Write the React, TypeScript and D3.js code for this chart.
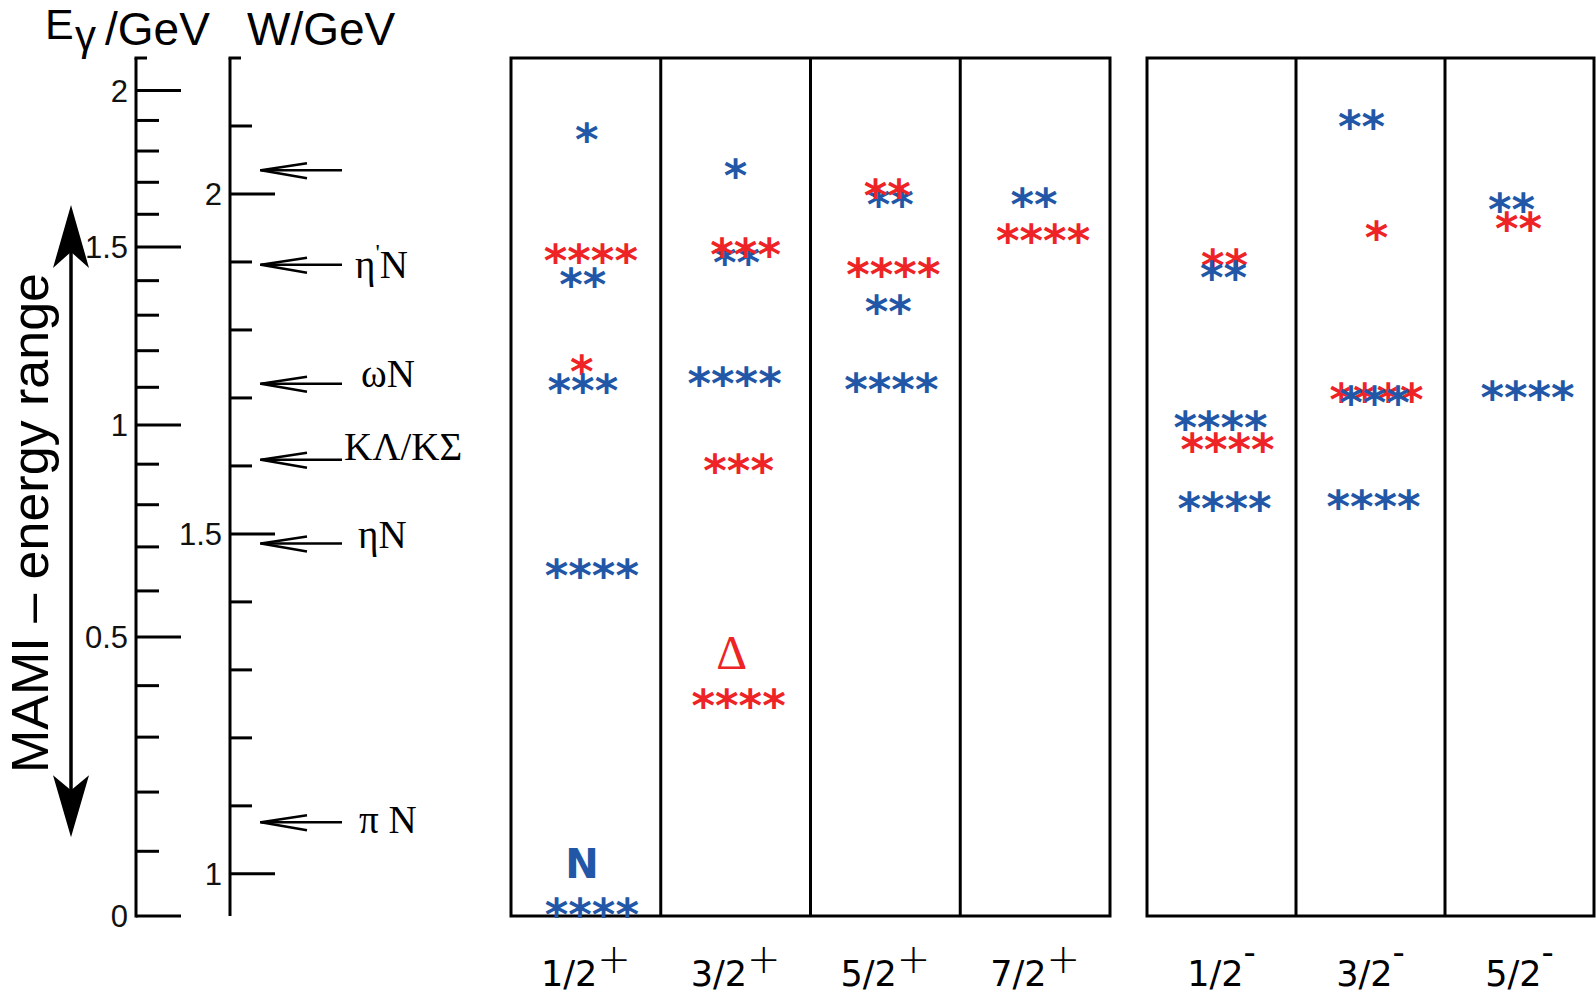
import React from 'react';
import * as d3 from 'd3';

// Nucleon mass (GeV) links photon energy to centre-of-mass energy: W^2 = m^2 + 2 m E
const NUCLEON_MASS = 0.938;
const W_TOP = 2.2;

const E_MAJOR_TICKS = [0, 0.5, 1, 1.5, 2];
const W_MAJOR_TICKS = [1, 1.5, 2];

// Photon-energy span covered by the MAMI arrow (GeV)
const MAMI_RANGE = [0.123, 1.629];

const POSITIVE_PARITY = ['1/2', '3/2', '5/2', '7/2'];
const NEGATIVE_PARITY = ['1/2', '3/2', '5/2'];

// Production thresholds on the W axis (GeV)
const THRESHOLD_W = [2.035, 1.896, 1.721, 1.609, 1.486, 1.076];
const THRESHOLD_LABEL = ['', "η'N", 'ωN', 'KΛ/KΣ', 'ηN', 'π N'];

// Baryon states: J^P column, family (N blue, Δ red), W (GeV), star rating
const STATE_COLUMN = [
  '1/2+', '1/2+', '1/2+', '1/2+', '1/2+', '1/2+', '1/2+',
  '3/2+', '3/2+', '3/2+', '3/2+', '3/2+', '3/2+',
  '5/2+', '5/2+', '5/2+', '5/2+', '5/2+',
  '7/2+', '7/2+',
  '1/2-', '1/2-', '1/2-', '1/2-', '1/2-',
  '3/2-', '3/2-', '3/2-', '3/2-', '3/2-',
  '5/2-', '5/2-', '5/2-',
];
const STATE_FAMILY = [
  'N', 'Δ', 'N', 'Δ', 'N', 'N', 'N',
  'N', 'N', 'Δ', 'N', 'Δ', 'Δ',
  'N', 'Δ', 'Δ', 'N', 'N',
  'N', 'Δ',
  'Δ', 'N', 'N', 'Δ', 'N',
  'N', 'Δ', 'Δ', 'N', 'N',
  'N', 'Δ', 'N',
];
const STATE_W = [
  2.091, 1.913, 1.878, 1.750, 1.722, 1.450, 0.951,
  2.038, 1.910, 1.922, 1.732, 1.604, 1.259,
  1.996, 2.009, 1.893, 1.838, 1.723,
  1.996, 1.943,
  1.906, 1.888, 1.668, 1.635, 1.548,
  2.110, 1.947, 1.709, 1.704, 1.551,
  1.988, 1.960, 1.712,
];
const STATE_RATING = [
  1, 4, 2, 1, 3, 4, 4,
  1, 2, 3, 4, 3, 4,
  2, 2, 4, 2, 4,
  2, 4,
  2, 2, 4, 4, 4,
  2, 1, 4, 3, 4,
  2, 2, 4,
];

// Ground states labelled above their star rows
const GROUND_LABEL = ['N', 'Δ'];
const GROUND_INDEX = [6, 12];

// Layout nudges (px) for the star strings inside their column
const STATE_NUDGE = [
  1, 5, -3, -4, -3, 6, 6,
  0, 1, 10, -1, 3, 3,
  5, 2, 8, 3, 6,
  -1, 8,
  3, 2, -1, 6, 3,
  -9, 6, 6, 4, 3,
  -8, -1, 8,
];
const LABEL_NUDGE_X = [0, 355, 361, 344, 358, 359];
const LABEL_NUDGE_Y = [0, 13, 3, 0, 5, 11];

const COLOR = { N: '#2257a7', Δ: '#ee2326' } as Record<string, string>;

export default function App() {
  const yW = d3.scaleLinear().domain([NUCLEON_MASS, W_TOP]).range([916, 58]);
  const wFromE = (e: number) => Math.sqrt(NUCLEON_MASS * NUCLEON_MASS + 2 * NUCLEON_MASS * e);
  const yE = (e: number) => yW(wFromE(e));

  const xPos = d3.scaleBand<string>().domain(POSITIVE_PARITY).range([511, 1110]);
  const xNeg = d3.scaleBand<string>().domain(NEGATIVE_PARITY).range([1147, 1594]);
  const colCenter = (key: string) => {
    const spin = key.slice(0, 3);
    const sc = key.endsWith('+') ? xPos : xNeg;
    return (sc(spin) as number) + sc.bandwidth() / 2;
  };

  const eAxisX = 136;
  const wAxisX = 230;
  const eMinor = d3.range(1, 21).map((i) => i / 10).filter((v) => !E_MAJOR_TICKS.includes(v));
  const wMinor = d3.range(10, 22).map((i) => i / 10).filter((v) => !W_MAJOR_TICKS.includes(v));

  const sans = 'Liberation Sans, Arial, Helvetica, sans-serif';
  const serif = 'Liberation Serif, Times New Roman, serif';
  const deja = 'DejaVu Sans, sans-serif';
  const yTop = yW(W_TOP);
  const yBottom = yW(NUCLEON_MASS);

  const arrowTop = yE(MAMI_RANGE[1]);
  const arrowBottom = yE(MAMI_RANGE[0]);
  const ax = 71;

  const groups = [
    { sc: xPos, keys: POSITIVE_PARITY, sign: '+' },
    { sc: xNeg, keys: NEGATIVE_PARITY, sign: '-' },
  ];

  return (
    <svg
      width={1596}
      height={1001}
      style={{ position: 'absolute', left: 0, top: 0, background: '#fff', display: 'block' }}
    >
      <rect x={0} y={0} width={1596} height={1001} fill="#fff" />

      {/* axis titles */}
      <text x={45} y={39} fontFamily={sans} fontSize={43} fill="#000">E</text>
      <text x={75} y={50} fontFamily={sans} fontSize={42} fill="#000">γ</text>
      <text x={105} y={45} fontFamily={sans} fontSize={46} fill="#000">/GeV</text>
      <text x={247} y={45} fontFamily={sans} fontSize={46} fill="#000">W/GeV</text>

      {/* photon energy axis */}
      <g stroke="#000" strokeWidth={3}>
        <line x1={eAxisX} x2={eAxisX} y1={yTop} y2={yBottom + 1.5} />
        <line x1={eAxisX - 1.5} x2={eAxisX + 11} y1={yTop} y2={yTop} />
        {E_MAJOR_TICKS.map((v) => (
          <line key={'em' + v} x1={eAxisX} x2={eAxisX + 45} y1={yE(v)} y2={yE(v)} />
        ))}
        {eMinor.map((v) => (
          <line key={'en' + v} x1={eAxisX} x2={eAxisX + 23} y1={yE(v)} y2={yE(v)} />
        ))}
      </g>
      {E_MAJOR_TICKS.map((v) => (
        <text key={'el' + v} x={128} y={yE(v)} dy="0.36em" textAnchor="end" fontFamily={sans} fontSize={31} fill="#111">
          {String(v)}
        </text>
      ))}

      {/* centre-of-mass energy axis */}
      <g stroke="#000" strokeWidth={3}>
        <line x1={wAxisX} x2={wAxisX} y1={yTop} y2={yBottom} />
        <line x1={wAxisX - 1.5} x2={wAxisX + 11} y1={yTop} y2={yTop} />
        {W_MAJOR_TICKS.map((v) => (
          <line key={'wm' + v} x1={wAxisX} x2={wAxisX + 45} y1={yW(v)} y2={yW(v)} />
        ))}
        {wMinor.map((v) => (
          <line key={'wn' + v} x1={wAxisX} x2={wAxisX + 22} y1={yW(v)} y2={yW(v)} />
        ))}
      </g>
      {W_MAJOR_TICKS.map((v) => (
        <text key={'wl' + v} x={222} y={yW(v)} dy="0.36em" textAnchor="end" fontFamily={sans} fontSize={31} fill="#111">
          {String(v)}
        </text>
      ))}

      {/* thresholds */}
      {THRESHOLD_W.map((w, i) => {
        const y = yW(w);
        const label = THRESHOLD_LABEL[i];
        const [pre, post] = label.split("'");
        return (
          <g key={'th' + i}>
            <g stroke="#000" strokeWidth={2.5} fill="none">
              <line x1={260} x2={342} y1={y} y2={y} />
              <polyline points={`307,${y - 7} 261,${y} 307,${y + 8}`} />
            </g>
            {label && (
              <text x={LABEL_NUDGE_X[i]} y={y + LABEL_NUDGE_Y[i]} fontFamily={serif} fontSize={39} fill="#000">
                {post !== undefined ? (
                  <>
                    {pre}
                    <tspan fontSize={24} dy={-18}>'</tspan>
                    <tspan dy={18}>{post}</tspan>
                  </>
                ) : (
                  label
                )}
              </text>
            )}
          </g>
        );
      })}

      {/* MAMI energy range */}
      <line x1={ax} x2={ax} y1={arrowTop + 30} y2={arrowBottom - 30} stroke="#000" strokeWidth={3.5} />
      <path
        d={`M${ax},${arrowTop} L${ax + 18},${arrowTop + 63} L${ax},${arrowTop + 47} L${ax - 18},${arrowTop + 63} Z`}
        fill="#000"
      />
      <path
        d={`M${ax},${arrowBottom} L${ax + 18},${arrowBottom - 62} L${ax},${arrowBottom - 47} L${ax - 18},${arrowBottom - 62} Z`}
        fill="#000"
      />
      <text
        transform={`translate(48,523) rotate(-90)`}
        textAnchor="middle"
        fontFamily={sans}
        fontSize={52}
        fill="#000"
      >
        MAMI – energy range
      </text>

      {/* J^P columns */}
      {groups.map((g) => (
        <g key={g.sign}>
          <rect
            x={g.sc.range()[0]}
            y={yTop}
            width={g.sc.range()[1] - g.sc.range()[0]}
            height={yBottom - yTop}
            fill="none"
            stroke="#000"
            strokeWidth={3}
          />
          {g.keys.slice(1).map((k) => (
            <line key={k} x1={g.sc(k)} x2={g.sc(k)} y1={yTop} y2={yBottom} stroke="#000" strokeWidth={3} />
          ))}
          {g.keys.map((k) => (
            <text
              key={'lab' + k}
              x={(g.sc(k) as number) + g.sc.bandwidth() / 2}
              y={986}
              textAnchor="middle"
              fontFamily={deja}
              fontSize={35}
              fill="#000"
            >
              {k}
              {g.sign === '+' ? (
                <tspan fontSize={40} fontWeight={300} dy={-13}>+</tspan>
              ) : (
                <tspan fontSize={34} dy={-22}>-</tspan>
              )}
            </text>
          ))}
        </g>
      ))}

      {/* star ratings */}
      {STATE_W.map((w, i) => (
        <text
          key={'st' + i}
          x={colCenter(STATE_COLUMN[i]) + STATE_NUDGE[i]}
          y={yW(w) + 23}
          textAnchor="middle"
          fontFamily={deja}
          fontWeight="bold"
          fontSize={45}
          fill={COLOR[STATE_FAMILY[i]]}
        >
          {'*'.repeat(STATE_RATING[i])}
        </text>
      ))}

      {/* ground-state labels */}
      {GROUND_INDEX.map((idx, i) => (
        <text
          key={'gl' + i}
          x={colCenter(STATE_COLUMN[idx]) - 4}
          y={yW(STATE_W[idx]) - 29}
          textAnchor="middle"
          fontFamily={GROUND_LABEL[i] === 'N' ? deja : serif}
          fontWeight={GROUND_LABEL[i] === 'N' ? 'bold' : 'normal'}
          fontSize={GROUND_LABEL[i] === 'N' ? 40 : 48}
          fill={COLOR[STATE_FAMILY[idx]]}
        >
          {GROUND_LABEL[i]}
        </text>
      ))}
    </svg>
  );
}
